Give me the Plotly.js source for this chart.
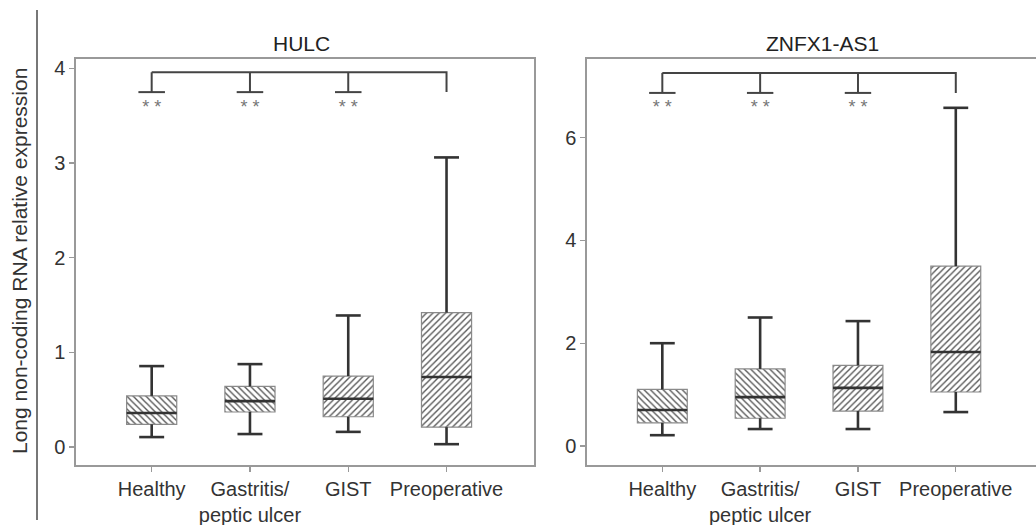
<!DOCTYPE html>
<html>
<head>
<meta charset="utf-8">
<script src="https://cdn.plot.ly/plotly-3.0.1.min.js"></script>
<style>html,body{margin:0;padding:0;background:#fff;}#chart{width:1036px;height:525px;}</style>
</head>
<body>
<div id="chart"></div>
<script>
// ---- data ----
const categories = ["Healthy", "Gastritis/<br>peptic ulcer", "GIST", "Preoperative"];
const panelTitles = ["HULC", "ZNFX1-AS1"];

// HULC
const hulcLower  = [0.105, 0.137, 0.16, 0.03];
const hulcQ1     = [0.24, 0.37, 0.32, 0.21];
const hulcMedian = [0.36, 0.485, 0.51, 0.74];
const hulcQ3     = [0.54, 0.64, 0.75, 1.42];
const hulcUpper  = [0.855, 0.876, 1.39, 3.06];

// ZNFX1-AS1
const znfLower  = [0.21, 0.33, 0.33, 0.66];
const znfQ1     = [0.45, 0.54, 0.68, 1.05];
const znfMedian = [0.70, 0.95, 1.13, 1.83];
const znfQ3     = [1.10, 1.50, 1.57, 3.50];
const znfUpper  = [2.00, 2.50, 2.43, 6.58];

// significance bracket levels (top line, cap line, star label)
const hulcSig = {top: 3.96, cap: 3.75, star: 3.58};
const znfSig  = {top: 7.26, cap: 6.87, star: 6.57};
const sigLabels = ["* *", "* *", "* *"];

const hatch = ["\\", "\\", "/", "/"];

// ---- build ----
const xs = categories.map((_, i) => i);
const boxW = 0.51, capW = 0.127, sigCapW = 0.135;
const font = "Liberation Sans, Arial, sans-serif";

function panel(lower, q1, med, q3, upper, xa, ya) {
  const bars = {
    type: "bar", x: xs, base: q1, y: q3.map((v, i) => v - q1[i]), width: boxW,
    xaxis: xa, yaxis: ya, hoverinfo: "skip", showlegend: false,
    marker: {color: "white", line: {color: "#8a8a8a", width: 1.2},
      pattern: {shape: hatch, fgcolor: "#555", bgcolor: "white", size: 4.5, solidity: 0.3}}
  };
  const wx = [], wy = [];
  xs.forEach(i => {
    wx.push(i, i, null, i - capW, i + capW, null, i, i, null, i - capW, i + capW, null);
    wy.push(q3[i], upper[i], null, upper[i], upper[i], null, q1[i], lower[i], null, lower[i], lower[i], null);
  });
  const whisk = {type: "scatter", mode: "lines", x: wx, y: wy, xaxis: xa, yaxis: ya,
    line: {color: "#333", width: 2.6}, hoverinfo: "skip", showlegend: false};
  const mx = [], my = [];
  xs.forEach(i => { mx.push(i - boxW / 2, i + boxW / 2, null); my.push(med[i], med[i], null); });
  const medians = {type: "scatter", mode: "lines", x: mx, y: my, xaxis: xa, yaxis: ya,
    line: {color: "#333", width: 2.6}, hoverinfo: "skip", showlegend: false};
  return [bars, whisk, medians];
}

function bracket(sig, xa, ya) {
  const last = xs.length - 1;
  const bx = [0, 0, null, 0, last, last, null], by = [sig.cap, sig.top, null, sig.top, sig.top, sig.cap, null];
  for (let i = 1; i < last; i++) { bx.push(i, i, null); by.push(sig.top, sig.cap, null); }
  for (let i = 0; i < last; i++) { bx.push(i - sigCapW, i + sigCapW, null); by.push(sig.cap, sig.cap, null); }
  const br = {type: "scatter", mode: "lines", x: bx, y: by, xaxis: xa, yaxis: ya,
    line: {color: "#444", width: 2}, hoverinfo: "skip", showlegend: false};
  const st = {type: "scatter", mode: "text", x: xs.slice(0, last), y: sigLabels.map(() => sig.star),
    text: sigLabels, xaxis: xa, yaxis: ya, textfont: {family: font, size: 18, color: "#777"},
    hoverinfo: "skip", showlegend: false};
  return [br, st];
}

const traces = [
  ...panel(hulcLower, hulcQ1, hulcMedian, hulcQ3, hulcUpper, "x", "y"),
  ...bracket(hulcSig, "x", "y"),
  ...panel(znfLower, znfQ1, znfMedian, znfQ3, znfUpper, "x2", "y2"),
  ...bracket(znfSig, "x2", "y2")
];

const tickFont = {family: font, size: 20, color: "#333"};
const axisCommon = {showgrid: false, zeroline: false, showline: true, linecolor: "#999", linewidth: 1.6,
  ticks: "outside", ticklen: 5, tickwidth: 1.4, tickcolor: "#999", tickfont: tickFont, fixedrange: true};
const yDom = [1 - 465 / 525, 1 - 59 / 525];

const layout = {
  width: 1036, height: 525, margin: {l: 0, r: 0, t: 0, b: 0},
  paper_bgcolor: "white", plot_bgcolor: "white", showlegend: false, font: {family: font},
  xaxis: {...axisCommon, domain: [76 / 1036, 534 / 1036], range: [-0.77, 3.89], mirror: true,
    tickvals: xs, ticktext: categories, anchor: "y"},
  yaxis: {...axisCommon, domain: yDom, range: [-0.19, 4.1], mirror: true, tickvals: [0, 1, 2, 3, 4], anchor: "x"},
  xaxis2: {...axisCommon, domain: [587 / 1036, 1], range: [-0.77, 3.82], mirror: true,
    tickvals: xs, ticktext: categories, anchor: "y2"},
  yaxis2: {...axisCommon, domain: yDom, range: [-0.37, 7.53], mirror: false, tickvals: [0, 2, 4, 6], anchor: "x2"},
  annotations: [
    {text: panelTitles[0], xref: "paper", yref: "paper", x: 301 / 1036, y: 1 - 44 / 525, showarrow: false,
      font: {family: font, size: 21, color: "#222"}, xanchor: "center", yanchor: "middle"},
    {text: panelTitles[1], xref: "paper", yref: "paper", x: 822 / 1036, y: 1 - 44 / 525, showarrow: false,
      font: {family: font, size: 21, color: "#222"}, xanchor: "center", yanchor: "middle"},
    {text: "Long non-coding RNA relative expression", xref: "paper", yref: "paper", x: 19 / 1036, y: 1 - 261 / 525,
      showarrow: false, textangle: -90, font: {family: font, size: 21, color: "#333"}, xanchor: "center", yanchor: "middle"}
  ],
  shapes: [
    {type: "line", xref: "paper", yref: "paper", x0: 37 / 1036, x1: 37 / 1036, y0: 1 - 520 / 525, y1: 1 - 10 / 525,
      line: {color: "#777", width: 2}}
  ]
};

Plotly.newPlot("chart", traces, layout, {displayModeBar: false, staticPlot: true});
</script>
</body>
</html>
